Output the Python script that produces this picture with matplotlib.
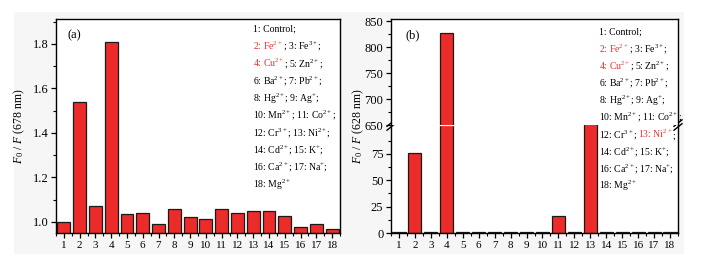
import matplotlib
matplotlib.use('Agg')
import matplotlib.pyplot as plt
from matplotlib.ticker import MultipleLocator, FixedLocator
from matplotlib.patches import Rectangle
from matplotlib.offsetbox import TextArea, HPacker, AnnotationBbox

plt.rcParams['font.family'] = ['Liberation Serif', 'DejaVu Serif']
plt.rcParams['mathtext.fontset'] = 'custom'
plt.rcParams['mathtext.rm'] = 'Liberation Serif'
plt.rcParams['mathtext.it'] = 'Liberation Serif:italic'

ions = list(range(1, 19))
# (a) F0/F at 678 nm
ratio_678 = [1.00, 1.54, 1.07, 1.81, 1.035, 1.04, 0.99, 1.06, 1.02,
             1.015, 1.06, 1.04, 1.05, 1.048, 1.025, 0.975, 0.99, 0.97]
# (b) F0/F at 628 nm (bar 13 runs off the lower segment)
ratio_628 = [1.0, 76, 1.0, 827, 1.0, 1.0, 1.0, 1.0, 1.0,
             1.0, 16.5, 1.0, 300, 0.8, 0.8, 0.8, 0.8, 0.8]
lo_ticks = [0, 25, 50, 75]
hi_ticks = [650, 700, 750, 800, 850]

RED = '#e8312f'
BAR = '#ec2b2b'
EDGE = '#1a1a1a'

legend_a = [
    [("1: Control;", 'k')],
    [("2: Fe$^{2+}$", RED), ("; 3: Fe$^{3+}$;", 'k')],
    [("4: Cu$^{2+}$", RED), ("; 5: Zn$^{2+}$;", 'k')],
    [("6: Ba$^{2+}$; 7: Pb$^{2+}$;", 'k')],
    [("8: Hg$^{2+}$; 9: Ag$^{+}$;", 'k')],
    [("10: Mn$^{2+}$; 11: Co$^{2+}$;", 'k')],
    [("12: Cr$^{3+}$; 13: Ni$^{2+}$;", 'k')],
    [("14: Cd$^{2+}$; 15: K$^{+}$;", 'k')],
    [("16: Ca$^{2+}$; 17: Na$^{+}$;", 'k')],
    [("18: Mg$^{2+}$", 'k')],
]
legend_b = [line for line in legend_a]
legend_b[6] = [("12: Cr$^{3+}$; ", 'k'), ("13: Ni$^{2+}$", RED), (";", 'k')]

fig = plt.figure(figsize=(7.05, 2.58), dpi=100, facecolor='white')
fig.patches.append(Rectangle((14 / 705, 1 - 254 / 258), 670 / 705, 242 / 258,
                             transform=fig.transFigure, facecolor='#f6f6f6',
                             edgecolor='none', zorder=-10))

bot, top = 1 - 233 / 258, 1 - 19 / 258
brk = 1 - 125 / 258
ax_a = fig.add_axes([56 / 705, bot, 284 / 705, top - bot])
xb0, xb1 = 391 / 705, 678 / 705
ax_lo = fig.add_axes([xb0, bot, xb1 - xb0, brk - bot])
ax_hi = fig.add_axes([xb0, brk, xb1 - xb0, top - brk])
ax_ov = fig.add_axes([xb0, bot, xb1 - xb0, top - bot])
ax_ov.axis('off')

width = 0.82


def style(ax):
    for s in ax.spines.values():
        s.set_linewidth(1.0)
    ax.tick_params(which='major', direction='out', length=3.5, width=0.9,
                   top=False, right=False, labelsize=9, pad=2)
    ax.tick_params(which='minor', direction='out', length=2, width=0.8,
                   top=False, right=False)
    ax.set_xlim(0.5, 18.5)
    ax.set_facecolor('white')


def add_legend(ax, lines, x0, y0, dy):
    for i, pieces in enumerate(lines):
        boxes = [TextArea(t, textprops=dict(color=c, fontsize=7)) for t, c in pieces]
        pack = HPacker(children=boxes, align='baseline', pad=0, sep=0)
        ab = AnnotationBbox(pack, (x0, y0 - i * dy), xycoords=ax.transAxes,
                            box_alignment=(0, 0.5), frameon=False, pad=0)
        ax.add_artist(ab)


# ---- panel (a)
ax_a.bar(ions, ratio_678, width=width, color=BAR, edgecolor=EDGE, linewidth=0.9)
style(ax_a)
ax_a.set_ylim(0.95, 1.912)
ax_a.yaxis.set_major_locator(MultipleLocator(0.2))
ax_a.yaxis.set_minor_locator(MultipleLocator(0.1))
ax_a.set_xticks(ions)
ax_a.xaxis.set_minor_locator(MultipleLocator(0.5))
ax_a.tick_params(axis='x', labelsize=8)
ax_a.set_ylabel('$F_0$ / $F$ (678 nm)', fontsize=8.5, labelpad=4)
ax_a.text(0.04, 0.925, '(a)', transform=ax_a.transAxes, fontsize=9, va='center')
add_legend(ax_a, legend_a, 0.694, 0.953, 0.081)

# ---- panel (b), broken axis
for ax in (ax_lo, ax_hi):
    ax.bar(ions, ratio_628, width=width, color=BAR, edgecolor=EDGE, linewidth=0.9)
    style(ax)
ax_lo.set_ylim(0, 102.5)
ax_lo.yaxis.set_major_locator(FixedLocator(lo_ticks))
ax_lo.yaxis.set_minor_locator(FixedLocator([t + 12.5 for t in lo_ticks]))
ax_lo.set_xticks(ions)
ax_lo.xaxis.set_minor_locator(MultipleLocator(0.5))
ax_lo.tick_params(axis='x', labelsize=8)
ax_lo.spines['top'].set_visible(False)

ax_hi.set_ylim(650, 854)
ax_hi.yaxis.set_major_locator(FixedLocator(hi_ticks))
ax_hi.yaxis.set_minor_locator(FixedLocator([t + 25 for t in hi_ticks[:-1]]))
ax_hi.spines['bottom'].set_visible(False)
ax_hi.tick_params(axis='x', which='both', bottom=False, labelbottom=False)

# white gap across the tall bar at the break
ylo_top = ax_lo.get_ylim()[1]
for x, v in zip(ions, ratio_628):
    if v > ax_hi.get_ylim()[0]:
        ax_lo.plot([x - width / 2 - 0.08, x + width / 2 + 0.08], [ylo_top, ylo_top],
                   color='white', lw=1.6, clip_on=False, zorder=6)

# break marks on both spines
for xs in (0, 1):
    for dy in (-0.018, 0.018):
        ax_lo.plot([xs - 0.014, xs + 0.014], [1 + dy - 0.03, 1 + dy + 0.03],
                   transform=ax_lo.transAxes, color='k', lw=1.0, clip_on=False, zorder=7)

ax_ov.text(-0.115, 0.5, '$F_0$ / $F$ (628 nm)', transform=ax_ov.transAxes, fontsize=8.5,
           rotation=90, va='center', ha='center')
ax_ov.text(0.049, 0.925, '(b)', transform=ax_ov.transAxes, fontsize=9, va='center')
add_legend(ax_ov, legend_b, 0.725, 0.939, 0.08)

fig.savefig('out.png', dpi=100, facecolor=fig.get_facecolor())
